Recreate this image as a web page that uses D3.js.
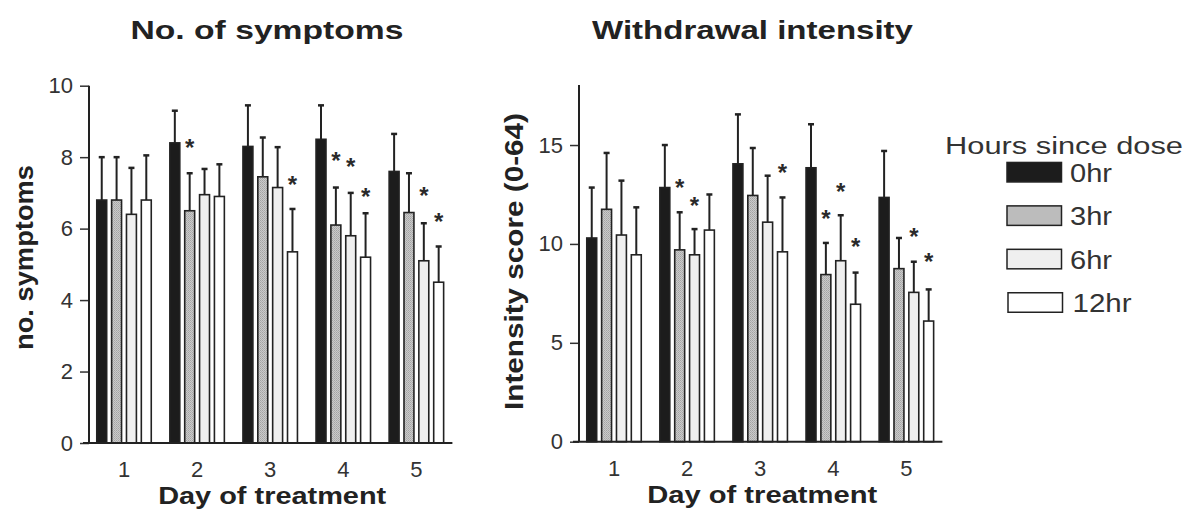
<!DOCTYPE html>
<html>
<head>
<meta charset="utf-8">
<script src="https://cdn.jsdelivr.net/npm/d3@7"></script>
<style>
  html, body { margin: 0; padding: 0; background: #fff; }
  svg { display: block; }
  text { font-family: "Liberation Sans", Arial, Helvetica, sans-serif; }
</style>
</head>
<body>
<svg id="chart" width="1189" height="519"></svg>
<script>
// Categories
const days = ["1", "2", "3", "4", "5"];
const hours = ["0hr", "3hr", "6hr", "12hr"];

// Number of symptoms: mean per hour-since-dose series, one value per day
const symptoms0 = [6.8, 8.4, 8.3, 8.5, 7.6];
const symptoms3 = [6.8, 6.5, 7.45, 6.1, 6.45];
const symptoms6 = [6.4, 6.95, 7.15, 5.8, 5.1];
const symptoms12 = [6.8, 6.9, 5.35, 5.2, 4.5];
// Standard errors (upper bars only)
const symptomsErr0 = [1.2, 0.9, 1.15, 0.95, 1.05];
const symptomsErr3 = [1.2, 1.05, 1.1, 1.05, 1.1];
const symptomsErr6 = [1.3, 0.72, 1.13, 1.2, 1.05];
const symptomsErr12 = [1.25, 0.9, 1.2, 1.23, 1.0];

// Withdrawal intensity score (0-64)
const intensity0 = [10.3, 12.85, 14.05, 13.85, 12.35];
const intensity3 = [11.75, 9.7, 12.45, 8.45, 8.75];
const intensity6 = [10.45, 9.45, 11.1, 9.15, 7.55];
const intensity12 = [9.45, 10.7, 9.6, 6.95, 6.1];
const intensityErr0 = [2.55, 2.15, 2.5, 2.2, 2.35];
const intensityErr3 = [2.85, 1.9, 2.4, 1.6, 1.55];
const intensityErr6 = [2.75, 1.3, 2.35, 2.3, 1.55];
const intensityErr12 = [2.4, 1.8, 2.75, 1.6, 1.6];

// Significance markers: [day, hour index, height on value axis]
const symptomsStars = [[2, 1, 8.41], [3, 3, 7.37], [4, 1, 8.04], [4, 2, 7.87], [4, 3, 7.03], [5, 2, 7.06], [5, 3, 6.34]];
const intensityStars = [[2, 1, 13.09], [2, 2, 12.22], [3, 3, 13.84], [4, 1, 11.56], [4, 2, 12.89], [4, 3, 10.1], [5, 2, 10.65], [5, 3, 9.35]];

// Axis tick values
const symptomsTicks = [0, 2, 4, 6, 8, 10];
const intensityTicks = [0, 5, 10, 15];

const svg = d3.select("#chart");

// Fills per series
const defs = svg.append("defs");
const pat = defs.append("pattern")
  .attr("id", "stipple").attr("width", 2).attr("height", 2)
  .attr("patternUnits", "userSpaceOnUse");
pat.append("rect").attr("width", 2).attr("height", 2).attr("fill", "#cacaca");
pat.append("rect").attr("x", 0).attr("y", 0).attr("width", 1).attr("height", 1).attr("fill", "#a4a4a4");
pat.append("rect").attr("x", 1).attr("y", 1).attr("width", 1).attr("height", 1).attr("fill", "#b0b0b0");

const fills = ["#1c1c1c", "url(#stipple)", "#efefef", "#ffffff"];
const ink = "#222";

function drawPanel(cfg) {
  const g = svg.append("g");

  const x = d3.scaleBand().domain(days).range([cfg.left, cfg.right])
    .paddingInner(0.234).paddingOuter(0.096);
  const xs = d3.scaleBand().domain(hours).range([0, x.bandwidth()])
    .paddingInner(0.23).paddingOuter(0);
  const y = d3.scaleLinear().domain([0, cfg.max]).range([cfg.bottom, cfg.top]);

  // Bars
  const rows = [];
  cfg.means.forEach((series, si) => {
    series.forEach((v, di) => {
      rows.push({ day: days[di], hour: hours[si], si, v, e: cfg.errs[si][di] });
    });
  });

  const barG = g.append("g");
  // error bars drawn first so bar outlines sit on top
  barG.selectAll("line.err").data(rows).join("line")
    .attr("class", "err")
    .attr("x1", d => x(d.day) + xs(d.hour) + xs.bandwidth() / 2)
    .attr("x2", d => x(d.day) + xs(d.hour) + xs.bandwidth() / 2)
    .attr("y1", d => y(d.v))
    .attr("y2", d => y(d.v + d.e))
    .attr("stroke", ink).attr("stroke-width", 2);
  barG.selectAll("line.cap").data(rows).join("line")
    .attr("class", "cap")
    .attr("x1", d => x(d.day) + xs(d.hour) + xs.bandwidth() / 2 - 3)
    .attr("x2", d => x(d.day) + xs(d.hour) + xs.bandwidth() / 2 + 3)
    .attr("y1", d => y(d.v + d.e))
    .attr("y2", d => y(d.v + d.e))
    .attr("stroke", ink).attr("stroke-width", 2.5);
  barG.selectAll("rect").data(rows).join("rect")
    .attr("x", d => x(d.day) + xs(d.hour) + 0.75)
    .attr("width", xs.bandwidth() - 1.5)
    .attr("y", d => y(d.v))
    .attr("height", d => y(0) - y(d.v))
    .attr("fill", d => fills[d.si])
    .attr("stroke", ink).attr("stroke-width", 1.6);

  // Significance asterisks
  g.selectAll("text.star").data(cfg.stars).join("text")
    .attr("class", "star")
    .attr("x", d => x(String(d[0])) + xs(hours[d[1]]) + xs.bandwidth() / 2)
    .attr("y", d => y(d[2]) + 13.5)
    .attr("text-anchor", "middle")
    .attr("font-size", 24).attr("font-weight", "bold").attr("fill", "#2a2a2a")
    .text("*");

  // Y axis
  const yAxis = d3.axisLeft(y).tickValues(cfg.ticks).tickSize(9).tickPadding(7)
    .tickFormat(d3.format("d"));
  const ya = g.append("g").attr("transform", `translate(${cfg.left},0)`).call(yAxis);
  ya.select(".domain").remove();
  ya.selectAll(".tick line").attr("stroke", "#333").attr("stroke-width", 1.5);
  ya.selectAll(".tick text").attr("font-size", 22).attr("fill", "#333")
    .attr("font-family", "Liberation Sans, Arial, sans-serif");
  g.append("line")
    .attr("x1", cfg.left).attr("x2", cfg.left)
    .attr("y1", y(0)).attr("y2", cfg.axisTop)
    .attr("stroke", ink).attr("stroke-width", 2);

  // X axis baseline and day labels
  g.append("line")
    .attr("x1", cfg.left - 6).attr("x2", cfg.right + 1)
    .attr("y1", y(0)).attr("y2", y(0))
    .attr("stroke", ink).attr("stroke-width", 2);
  const xAxis = d3.axisBottom(x).tickSize(0).tickPadding(0);
  const xa = g.append("g").attr("transform", `translate(0,${y(0)})`).call(xAxis);
  xa.select(".domain").remove();
  xa.selectAll(".tick text").attr("font-size", 22).attr("fill", "#333")
    .attr("dy", null).attr("y", cfg.dayLabelY - y(0))
    .attr("font-family", "Liberation Sans, Arial, sans-serif");

  // Titles
  g.append("text")
    .attr("x", cfg.titleX).attr("y", 39)
    .attr("text-anchor", "middle").attr("font-weight", "bold")
    .attr("font-size", 25).attr("fill", ink)
    .attr("textLength", cfg.titleW).attr("lengthAdjust", "spacingAndGlyphs")
    .text(cfg.title);
  g.append("text")
    .attr("x", (cfg.left + cfg.right) / 2 + 2).attr("y", cfg.xTitleY)
    .attr("text-anchor", "middle").attr("font-weight", "bold")
    .attr("font-size", 24).attr("fill", ink)
    .attr("textLength", cfg.xTitleW).attr("lengthAdjust", "spacingAndGlyphs")
    .text("Day of treatment");
  g.append("text")
    .attr("transform", `translate(${cfg.yTitleX},${cfg.yTitleY}) rotate(-90)`)
    .attr("text-anchor", "middle").attr("font-weight", "bold")
    .attr("font-size", 26).attr("fill", ink)
    .attr("textLength", cfg.yTitleW).attr("lengthAdjust", "spacingAndGlyphs")
    .text(cfg.yTitle);
}

drawPanel({
  left: 89, right: 451.4, top: 85.7, bottom: 443, axisTop: 85.7, max: 10,
  ticks: symptomsTicks,
  means: [symptoms0, symptoms3, symptoms6, symptoms12],
  errs: [symptomsErr0, symptomsErr3, symptomsErr6, symptomsErr12],
  stars: symptomsStars,
  title: "No. of symptoms", titleX: 267, titleW: 273,
  yTitle: "no. symptoms", yTitleX: 33, yTitleY: 257.5, yTitleW: 185,
  dayLabelY: 477, xTitleY: 504, xTitleW: 228
});

drawPanel({
  left: 579, right: 941.4, top: 85.7, bottom: 441.7, axisTop: 85, max: 18,
  ticks: intensityTicks,
  means: [intensity0, intensity3, intensity6, intensity12],
  errs: [intensityErr0, intensityErr3, intensityErr6, intensityErr12],
  stars: intensityStars,
  title: "Withdrawal intensity", titleX: 752.5, titleW: 321,
  yTitle: "Intensity score (0-64)", yTitleX: 523, yTitleY: 261.5, yTitleW: 297,
  dayLabelY: 476, xTitleY: 503, xTitleW: 230
});

// Legend
const legend = svg.append("g");
legend.append("text")
  .attr("x", 945).attr("y", 154)
  .attr("font-size", 23).attr("fill", "#333")
  .attr("textLength", 238).attr("lengthAdjust", "spacingAndGlyphs")
  .text("Hours since dose");
const legendY = d3.scalePoint().domain(hours).range([161.7, 292]);
const item = legend.selectAll("g.item").data(hours).join("g").attr("class", "item")
  .attr("transform", d => `translate(0,${legendY(d)})`);
item.append("rect")
  .attr("x", (d, i) => 1007 + (i === 3 ? 1 : 0))
  .attr("y", 0.75).attr("width", 54.5).attr("height", 19.5)
  .attr("fill", (d, i) => i === 0 ? fills[0] : i === 1 ? "#bcbcbc" : fills[i])
  .attr("stroke", ink).attr("stroke-width", 1.5);
item.append("text")
  .attr("x", (d, i) => i === 3 ? 1072.5 : 1070).attr("y", 20)
  .attr("font-size", 26).attr("fill", "#333")
  .attr("textLength", (d, i) => i === 3 ? 59 : 42).attr("lengthAdjust", "spacingAndGlyphs")
  .text(d => d);
</script>
</body>
</html>
